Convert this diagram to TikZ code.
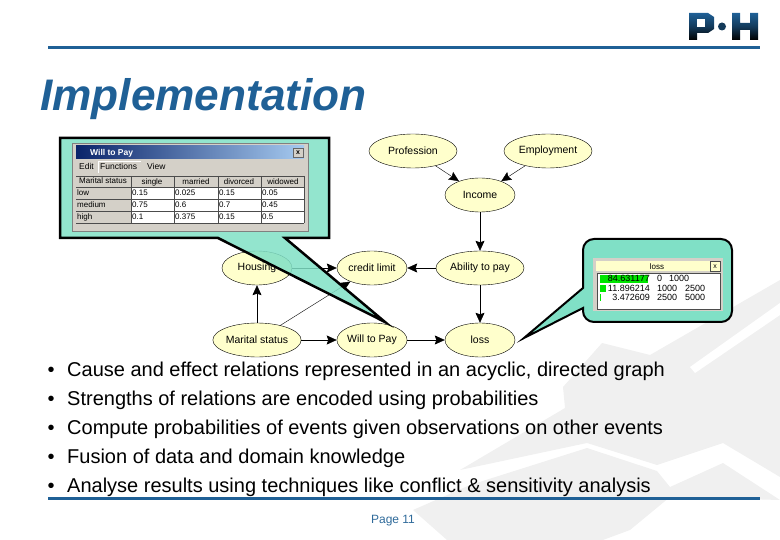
\documentclass[tikz,border=0pt]{standalone}
\usepackage{fontspec}
\setmainfont{Liberation Sans}
\usetikzlibrary{arrows.meta,shapes.geometric}
\definecolor{rulecol}{HTML}{1F6096}
\definecolor{calloutcol}{HTML}{80E0C6}
\definecolor{evcol}{HTML}{FFFFCC}
\definecolor{wincol}{HTML}{D4D0C8}
\definecolor{pagecol}{HTML}{2F6A9A}
\definecolor{markcol}{HTML}{F0F0F0}
\definecolor{titleleft}{HTML}{0A246A}
\definecolor{titleright}{HTML}{A6CAF0}
\tikzset{
    ev/.style={draw=black, fill=evcol, ellipse, inner sep=0pt, minimum width=70pt, minimum height=34pt, font=\fontsize{10.5}{12}\selectfont},
    evwide/.style={ev, minimum width=88pt},
    link/.style={-{Stealth[length=10pt,width=9pt,inset=1.5pt]}, semithick},
    thinlink/.style={-{Stealth[length=10pt,width=9pt,inset=1.5pt]}, thin},
    bullet/.style={anchor=base west, inner sep=0pt, font=\fontsize{20}{24}\selectfont},
    cell/.style={anchor=base west, inner sep=0pt, font=\fontsize{8}{9}\selectfont},
    headcell/.style={anchor=base, inner sep=0pt, font=\fontsize{8}{9}\selectfont},
    menucell/.style={anchor=base west, inner sep=0pt, font=\fontsize{8.5}{10}\selectfont},
    losscell/.style={anchor=base west, inner sep=0pt, font=\fontsize{9}{11}\selectfont},
    logo/.style={top color=rulecol, bottom color=black, middle color=rulecol!60!black, draw=none},
}
\begin{document}
\begin{tikzpicture}[x=1pt, y=-1pt, >=stealth]
    \useasboundingbox (0,0) rectangle (780,540);
    % watermark
    \fill[markcol] (602,343) -- (650,355) -- (780,280) -- (780,477) -- (723,443) -- (657,465) -- (587,443) -- (460,470) -- (565,408) -- (563,387) -- cycle;
    \fill[markcol] (587,448) -- (657,471) -- (670,487) -- (723,463) -- (780,500) -- (670,497) -- (630,530) -- (603,540) -- (447,540) -- (413,510) -- (470,485) -- cycle;
    \fill[white] (690,367) -- (780,303) -- (780,315) -- (695,373) -- cycle;

    % rules and heading
    \fill[rulecol] (48,46.5) rectangle (760,49.5);
    \fill[rulecol] (48,496.5) rectangle (760,499.5);
    \node[anchor=base west, inner sep=0pt, font=\fontsize{44.2}{50}\selectfont\bfseries\itshape, text=rulecol] (heading) at (40,110.5) {Implementation};

    % logo
    \shade[logo] (689,13) -- (708,13) -- (714,17) -- (714,29) -- (708,33) -- (697,33) -- (697,40) -- (689,40) -- cycle;
    \fill[white] (697,19) rectangle (705,27);
    \shade[logo] (732,13) -- (740,13) -- (740,23) -- (750,23) -- (750,13) -- (758,13) -- (758,40) -- (750,40) -- (750,30) -- (740,30) -- (740,40) -- (732,40) -- cycle;
    \fill[rulecol!60!black] (722,26.5) circle (4);

    % graph
    \node[evwide] (profession) at (413,151) {Profession};
    \node[evwide] (employment) at (548,151) {Employment};
    \node[ev] (income) at (480,195) {Income};
    \node[evwide] (ability) at (480,268) {Ability to pay};
    \node[ev] (credit) at (372,268) {credit limit};
    \node[ev] (housing) at (257,268) {Housing};
    \node[evwide] (marital) at (257,340) {Marital status};
    \node[ev] (willpay) at (372,340) {Will to Pay};
    \node[ev] (loss) at (480,340) {loss};

    \draw[thinlink] (profession) -- (income);
    \draw[thinlink] (employment) -- (income);
    \draw[link] (income) -- (ability);
    \draw[link] (ability) -- (credit);
    \draw[link] (ability) -- (loss);
    \draw[link] (housing) -- (credit);
    \draw[link] (marital) -- (housing);
    \draw[link] (marital) -- (willpay);
    \draw[thinlink] (marital) -- (credit);
    \draw[link] (willpay) -- (loss);

    % first callout
    \draw[line width=2.5pt, fill=calloutcol, fill opacity=0.85, miter limit=20] (60,138) -- (329,138) -- (329,238) -- (285,238) -- (385,322) -- (218,238) -- (60,238) -- cycle;
    \fill[wincol] (72,143) rectangle (308,231);
    \draw[gray] (72,143) rectangle (308,231);
    \shade[left color=titleleft, right color=titleright] (76,146) rectangle (304,159);
    \node[cell, text=white, font=\fontsize{8.5}{10}\selectfont\bfseries] (wintitle) at (90,156) {Will to Pay};
    \node[draw=black!60, fill=wincol, inner sep=0pt, minimum width=10pt, minimum height=9pt, font=\fontsize{7}{8}\selectfont\bfseries] (winclose) at (298,153) {x};
    \draw[white] (98,173) -- (98,161) -- (141,161);
    \node[menucell] (menuedit) at (79,170) {Edit};
    \node[menucell] (menufunc) at (100,170) {Functions};
    \node[menucell] (menuview) at (147,170) {View};
    % table
    \fill[white] (131,187) rectangle (304,223);
    \foreach \yy in {187,199,211,223} \draw[black!70] (76,\yy) -- (304,\yy);
    \foreach \xx in {131,174,218,261,304} \draw[black!70] (\xx,176) -- (\xx,223);
    \draw[black!70] (76,176) -- (304,176);
    \node[headcell] (headmar) at (103,184) {Marital status};
    \node[headcell] (headsin) at (152,185) {single};
    \node[headcell] (headmrd) at (196,185) {married};
    \node[headcell] (headdiv) at (239,185) {divorced};
    \node[headcell] (headwid) at (283,185) {widowed};
    \node[cell] (rowlow) at (77,196) {low};
    \node[cell] (rowmed) at (77,208) {medium};
    \node[cell] (rowhig) at (77,220) {high};
    \foreach \vala/\valb/\valc/\vald/\yy in {0.15/0.025/0.15/0.05/196, 0.75/0.6/0.7/0.45/208, 0.1/0.375/0.15/0.5/220} {
        \node[cell] (ca\yy) at (132,\yy) {\vala};
        \node[cell] (cb\yy) at (175,\yy) {\valb};
        \node[cell] (cc\yy) at (219,\yy) {\valc};
        \node[cell] (cd\yy) at (262,\yy) {\vald};
    }

    % second callout
    \draw[line width=2pt, fill=calloutcol, miter limit=20] (583,288) [rounded corners=11pt] -- (583,239) -- (732,239) -- (732,322) -- (583,322) [sharp corners] -- (583,308) -- (524,338) -- cycle;
    \fill[wincol] (593,258) rectangle (723,311);
    \fill[evcol] (596,261) rectangle (720,271);
    \fill[white] (597,273) rectangle (720,309);
    \draw[black!70] (597,273) rectangle (720,309);
    \draw[black!70, fill=evcol] (710,261) rectangle (720,271);
    \node[headcell, font=\fontsize{7}{8}\selectfont] (lossclose) at (715,269) {x};
    \node[headcell] (losstitle) at (657,270) {loss};
    \fill[green!90!black] (600,275) rectangle (648,283);
    \fill[green!90!black] (600,285) rectangle (606,292);
    \fill[green!90!black] (600,294) rectangle (601,301);
    \foreach \pct/\lo/\hi/\hix/\yy in {84.631177/0/1000/669/282, 11.896214/1000/2500/685/291.5, 3.472609/2500/5000/685/300.5} {
        \node[anchor=base east, inner sep=0pt, font=\fontsize{9}{11}\selectfont] (pct\lo) at (650,\yy) {\pct};
        \node[losscell] (low\lo) at (657,\yy) {\lo};
        \node[losscell] (high\lo) at (\hix,\yy) {\hi};
    }

    % bullet list
    \foreach \yy/\idx/\txt in {377/1/{Cause and effect relations represented in an acyclic, directed graph},
        406/2/{Strengths of relations are encoded using probabilities},
        435/3/{Compute probabilities of events given observations on other events},
        463/4/{Fusion of data and domain knowledge},
        492/5/{Analyse results using techniques like conflict \& sensitivity analysis}} {
        \node[bullet] (dot\idx) at (47.5,\yy) {•};
        \node[bullet] (item\idx) at (67,\yy) {\txt};
    }

    \node[inner sep=0pt, text=pagecol, font=\fontsize{12}{14}\selectfont] (page) at (393,521) {Page 11};
\end{tikzpicture}
\end{document}
